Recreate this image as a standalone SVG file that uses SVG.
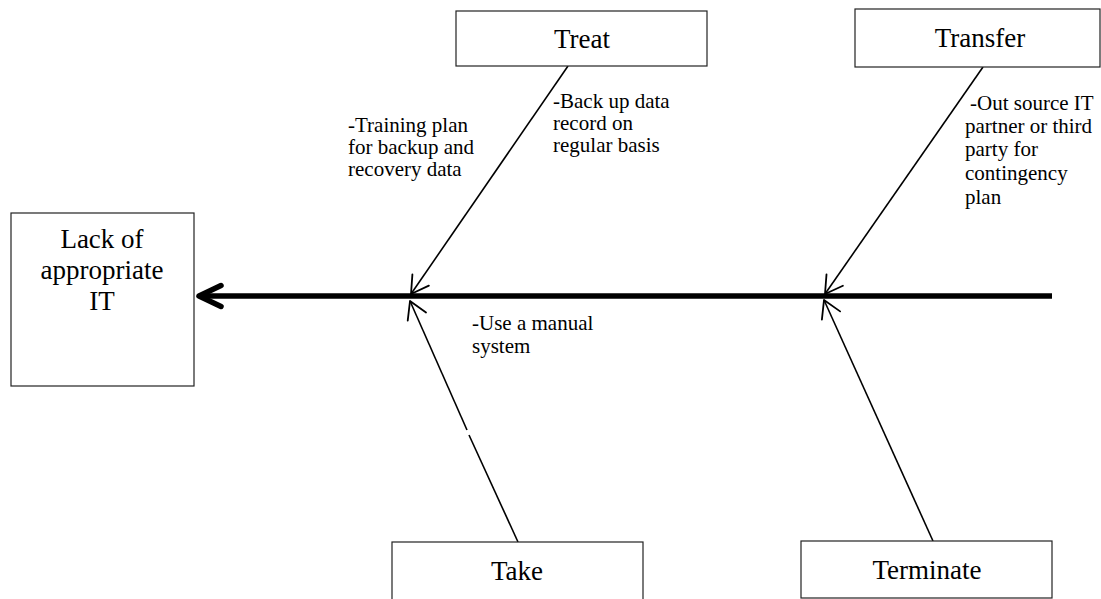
<svg xmlns="http://www.w3.org/2000/svg" width="1101" height="599" viewBox="0 0 1101 599">
  <style>
    .box { fill: #ffffff; stroke: #222222; stroke-width: 1.2; }
    .title { font-family: "Liberation Serif", "Times New Roman", serif; font-size: 27px; fill: #000000; text-anchor: middle; }
    .note { font-family: "Liberation Serif", "Times New Roman", serif; font-size: 21px; fill: #000000; }
    .branch { stroke: #000000; stroke-width: 1.6; fill: none; }
    .spine { stroke: #000000; stroke-width: 5.5; fill: none; }
  </style>
  <defs>
    <marker id="open-arrow" markerUnits="userSpaceOnUse" markerWidth="40" markerHeight="40" viewBox="-20 -20 40 40" refX="0" refY="0" orient="auto">
      <path d="M-17,-10 L0,0 L-17,10" fill="none" stroke="#000000" stroke-width="1.8" stroke-linecap="round" stroke-linejoin="round"/>
    </marker>
    <marker id="spine-arrow" markerUnits="userSpaceOnUse" markerWidth="60" markerHeight="60" viewBox="-30 -30 60 60" refX="0" refY="0" orient="auto">
      <path d="M-22,-10.5 L0,0 L-22,10.5" fill="none" stroke="#000000" stroke-width="5.5" stroke-linecap="round" stroke-linejoin="round"/>
    </marker>
  </defs>

  <rect width="1101" height="599" fill="#ffffff"/>

  <!-- connectors -->
  <g id="connectors">
    <line class="spine" x1="1052" y1="296" x2="199" y2="296" marker-end="url(#spine-arrow)"/>
    <line class="branch" x1="568" y1="66" x2="411" y2="294" marker-end="url(#open-arrow)"/>
    <line class="branch" x1="983" y1="67" x2="825" y2="294" marker-end="url(#open-arrow)"/>
    <!-- take branch, drawn in two pieces with a small break -->
    <line class="branch" x1="518" y1="542" x2="469" y2="435"/>
    <line class="branch" x1="467" y1="430" x2="410" y2="301" marker-end="url(#open-arrow)"/>
    <line class="branch" x1="933" y1="541" x2="824" y2="300" marker-end="url(#open-arrow)"/>
  </g>

  <!-- effect -->
  <g id="node-effect">
    <rect class="box" x="11" y="213" width="183" height="173"/>
    <text class="title" x="102" y="248">Lack of</text>
    <text class="title" x="102" y="279">appropriate</text>
    <text class="title" x="102" y="310">IT</text>
  </g>

  <g id="node-treat">
    <rect class="box" x="456" y="11" width="251" height="55"/>
    <text class="title" x="582" y="48">Treat</text>
    <text class="note" x="348" y="132">-Training plan</text>
    <text class="note" x="348" y="154">for backup and</text>
    <text class="note" x="348" y="176">recovery data</text>
    <text class="note" x="553" y="108">-Back up data</text>
    <text class="note" x="553" y="130">record on</text>
    <text class="note" x="553" y="152">regular basis</text>
  </g>

  <g id="node-transfer">
    <rect class="box" x="855" y="9" width="245" height="58"/>
    <text class="title" x="980" y="47">Transfer</text>
    <text class="note" x="970" y="110">-Out source IT</text>
    <text class="note" x="965" y="133">partner or third</text>
    <text class="note" x="965" y="156">party for</text>
    <text class="note" x="965" y="180">contingency</text>
    <text class="note" x="965" y="204">plan</text>
  </g>

  <g id="node-take">
    <rect class="box" x="392" y="542" width="251" height="62"/>
    <text class="title" x="517" y="580">Take</text>
    <text class="note" x="472" y="330">-Use a manual</text>
    <text class="note" x="472" y="353">system</text>
  </g>

  <g id="node-terminate">
    <rect class="box" x="801" y="541" width="251" height="57"/>
    <text class="title" x="927" y="579">Terminate</text>
  </g>
</svg>
